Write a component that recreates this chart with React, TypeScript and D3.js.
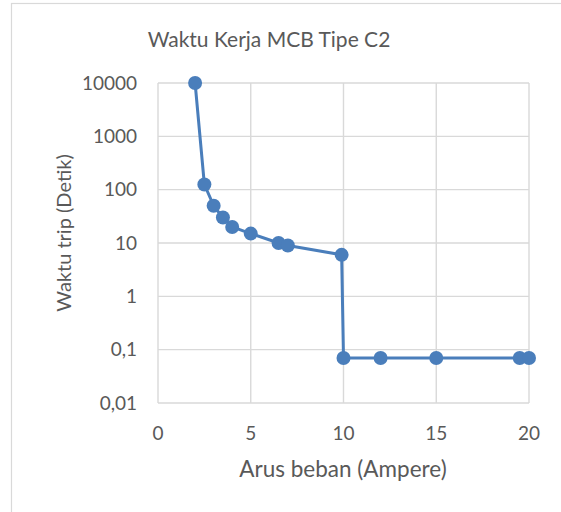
import { useEffect, useRef } from 'react'
import * as d3 from 'd3'

const title = 'Waktu Kerja MCB Tipe C2'
const xTitle = 'Arus beban (Ampere)'
const yTitle = 'Waktu trip (Detik)'

const arus = [2, 2.5, 3, 3.5, 4, 5, 6.5, 7, 9.9, 10, 12, 15, 19.5, 20]
const waktu = [10000, 125, 50, 30, 20, 15, 10, 9, 6, 0.07, 0.07, 0.07, 0.07, 0.07]

const xTicks = [0, 5, 10, 15, 20]
const yTicks = [0.01, 0.1, 1, 10, 100, 1000, 10000]
const yTickLabels = ['0,01', '0,1', '1', '10', '100', '1000', '10000']

const width = 561
const height = 512
const font = 'Lato, Calibri, sans-serif'
const textColor = '#595959'
const gridColor = '#d9d9d9'
const lineColor = '#4a7ebb'

export default function App() {
  const ref = useRef<SVGSVGElement>(null)

  useEffect(() => {
    if (!ref.current) return
    const svg = d3.select(ref.current)
    svg.selectAll('*').remove()

    const margin = { top: 83, right: 32, bottom: 109, left: 158 }

    const x = d3.scaleLinear().domain([0, 20]).range([margin.left, width - margin.right])
    const y = d3.scaleLog().domain([0.01, 10000]).range([height - margin.bottom, margin.top])

    // chart border (cropped at right/bottom)
    svg.append('rect')
      .attr('x', 11.5).attr('y', 3.5)
      .attr('width', width).attr('height', height)
      .attr('fill', '#fff')
      .attr('stroke', gridColor)
      .attr('stroke-width', 1.2)

    // grid
    const grid = svg.append('g')
    grid.selectAll('.gx')
      .data(xTicks)
      .enter()
      .append('line')
      .attr('x1', d => x(d)).attr('x2', d => x(d))
      .attr('y1', y(0.01)).attr('y2', y(10000))
      .attr('stroke', gridColor)
      .attr('stroke-width', 1.4)
    grid.selectAll('.gy')
      .data(yTicks)
      .enter()
      .append('line')
      .attr('x1', x(0)).attr('x2', x(20))
      .attr('y1', d => y(d)).attr('y2', d => y(d))
      .attr('stroke', gridColor)
      .attr('stroke-width', 1.4)

    // tick labels
    svg.append('g').selectAll('text')
      .data(yTicks)
      .enter()
      .append('text')
      .attr('x', x(0) - 21)
      .attr('y', d => y(d))
      .attr('dy', '0.35em')
      .attr('text-anchor', 'end')
      .attr('font-family', font)
      .attr('font-size', 19)
      .attr('fill', textColor)
      .text((d, i) => yTickLabels[i])

    svg.append('g').selectAll('text')
      .data(xTicks)
      .enter()
      .append('text')
      .attr('x', d => x(d))
      .attr('y', y(0.01) + 30)
      .attr('dy', '0.35em')
      .attr('text-anchor', 'middle')
      .attr('font-family', font)
      .attr('font-size', 19)
      .attr('fill', textColor)
      .text(d => String(d))

    // titles
    svg.append('text')
      .attr('x', 269).attr('y', 40)
      .attr('dy', '0.35em')
      .attr('text-anchor', 'middle')
      .attr('font-family', font)
      .attr('font-size', 21)
      .attr('fill', textColor)
      .text(title)

    svg.append('text')
      .attr('x', 343).attr('y', 469)
      .attr('dy', '0.35em')
      .attr('text-anchor', 'middle')
      .attr('font-family', font)
      .attr('font-size', 22.5)
      .attr('fill', textColor)
      .text(xTitle)

    svg.append('text')
      .attr('transform', `translate(64,233) rotate(-90)`)
      .attr('dy', '0.35em')
      .attr('text-anchor', 'middle')
      .attr('font-family', font)
      .attr('font-size', 20)
      .attr('fill', textColor)
      .text(yTitle)

    // series
    const pts = arus.map((a, i) => [a, waktu[i]] as [number, number])
    const line = d3.line<[number, number]>()
      .x(d => x(d[0]))
      .y(d => y(d[1]))

    svg.append('path')
      .datum(pts)
      .attr('d', line)
      .attr('fill', 'none')
      .attr('stroke', lineColor)
      .attr('stroke-width', 3)
      .attr('stroke-linejoin', 'round')

    svg.append('g').selectAll('circle')
      .data(pts)
      .enter()
      .append('circle')
      .attr('cx', d => x(d[0]))
      .attr('cy', d => y(d[1]))
      .attr('r', 7)
      .attr('fill', lineColor)
  }, [])

  return (
    <svg
      ref={ref}
      width={width}
      height={height}
      style={{ position: 'fixed', left: 0, top: 0, background: '#fff' }}
    />
  )
}
